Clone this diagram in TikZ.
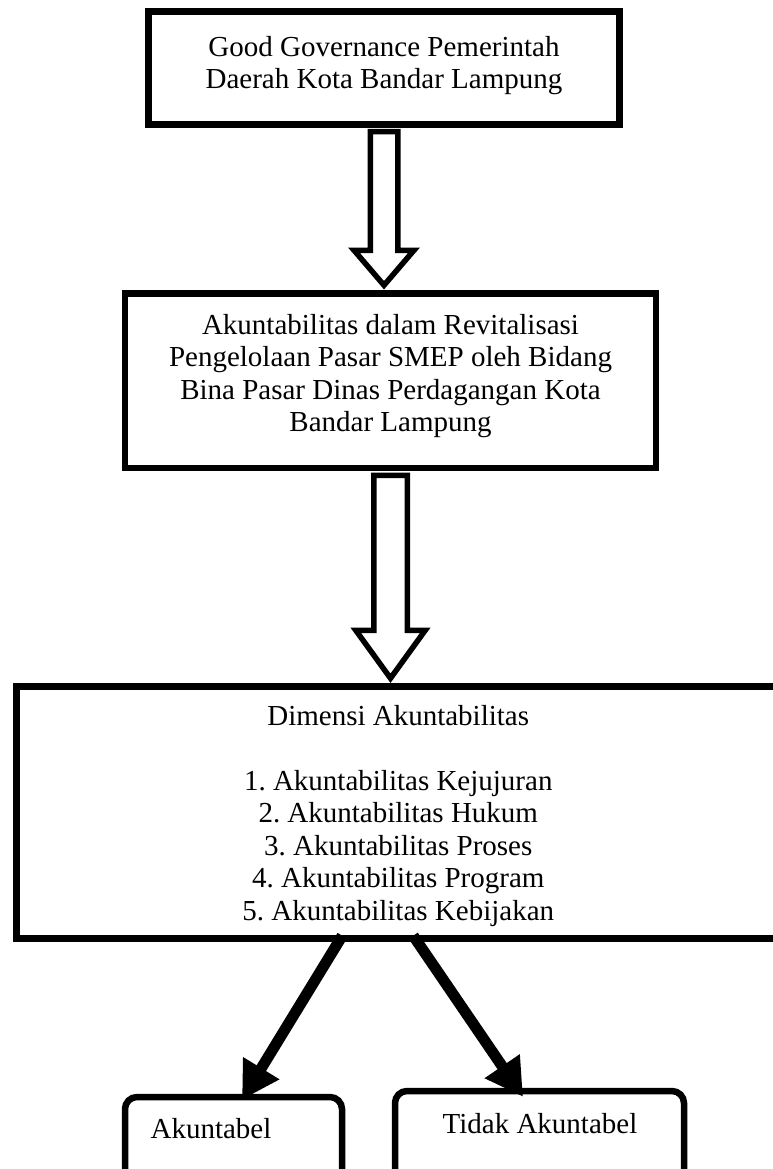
\documentclass[tikz,border=0pt]{standalone}
\usepackage{fontspec}
\setmainfont{Liberation Serif}
\usepackage{tikz}
\usetikzlibrary{calc,arrows.meta,positioning}

\tikzset{
  box/.style={draw, line width=6.5pt, inner sep=0pt},
  txt/.style={align=center, inner sep=0pt, outer sep=0pt,
    font=\fontsize{29}{32.5}\selectfont\frenchspacing},
  hollow/.style={draw, fill=white, line width=5.5pt},
  fat/.style={line width=11pt, -{Triangle[length=37pt,width=40pt]}}
}

\begin{document}
\begin{tikzpicture}[x=1pt, y=1pt]
        \newcommand{\blockarrow}[5]{%
          \draw[hollow] let \p1 = (#1.south), \p2 = (#2.north) in
            (\x1-#3, \y1-4) -- (\x1-#3, \y2+#5) -- (\x1-#4, \y2+#5)
            -- (\x1, \y2+5) -- (\x1+#4, \y2+#5) -- (\x1+#3, \y2+#5)
            -- (\x1+#3, \y1-4) -- cycle;}
        \path[fill=white] (0,0) rectangle (773,-1169);
        \clip (0,0) rectangle (773,-1169);

        \node[box, minimum width=471pt, minimum height=113pt] (gov) at (384,-68) {};
        \node[txt, anchor=north] (govtext) at ($(gov.north)+(0,-28)$)
          {Good Governance Pemerintah\\Daerah Kota Bandar Lampung};

        \node[box, minimum width=531pt, minimum height=174.5pt] (akun) at (390.5,-380.75) {};
        \node[txt, anchor=north] (akuntext) at ($(akun.north)+(0,-24)$)
          {Akuntabilitas dalam Revitalisasi\\Pengelolaan Pasar SMEP oleh Bidang\\
           Bina Pasar Dinas Perdagangan Kota\\Bandar Lampung};

        \node[box, minimum width=763.5pt, minimum height=252pt] (dim) at (398.25,-812.5) {};
        \node[txt, anchor=north] (dimtext) at ($(dim.north)+(0,-22)$)
          {Dimensi Akuntabilitas\\ \\1. Akuntabilitas Kejujuran\\2. Akuntabilitas Hukum\\
           3. Akuntabilitas Proses\\4. Akuntabilitas Program\\5. Akuntabilitas Kebijakan};

        \node[box, rounded corners=12pt, minimum width=217pt, minimum height=103pt] (ya) at (233.5,-1148.5) {};
        \node[txt, anchor=base] (yatext) at ($(ya.north)+(-22.5,-45)$) {Akuntabel};

        \node[box, rounded corners=12pt, minimum width=289pt, minimum height=109pt] (tidak) at (539.5,-1145.5) {};
        \node[txt, anchor=base] (tidaktext) at ($(tidak.north)+(0.5,-45.25)$) {Tidak Akuntabel};

        \blockarrow{gov}{akun}{13.75}{30}{40}
        \blockarrow{akun}{dim}{16.75}{34.75}{53}

        \draw[fat] ($(dim.south)+(-56,6)$) -- ($(ya.north)+(8.5,-6)$);
        \draw[fat] ($(dim.south)+(15,6)$) -- ($(tidak.north)+(-16.5,-9)$);
    \end{tikzpicture}
\end{document}
